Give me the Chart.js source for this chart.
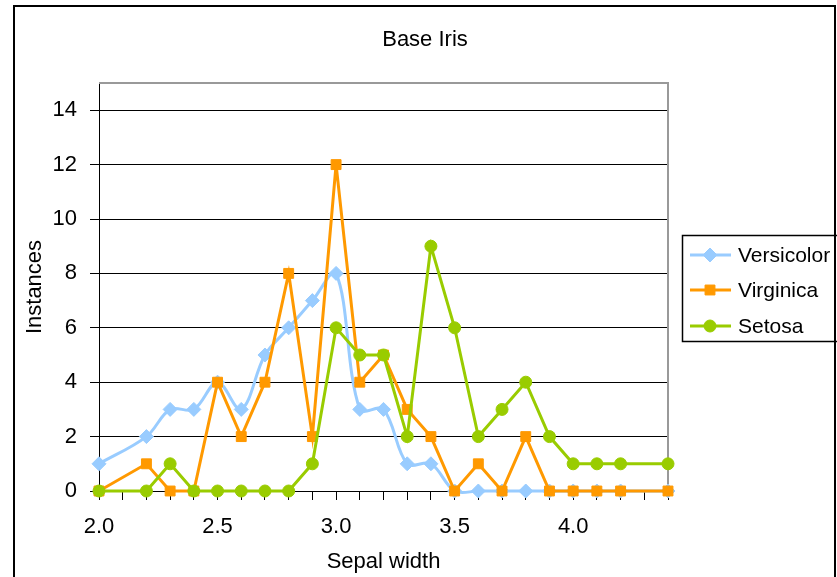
<!DOCTYPE html>
<html><head><meta charset="utf-8">
<script src="https://cdn.jsdelivr.net/npm/chart.js@4/dist/chart.umd.min.js"></script>
<style>html,body{margin:0;padding:0;background:#fff;}canvas{display:block;}</style>
</head><body>
<canvas id="c" width="837" height="577"></canvas>
<script>
const chartTitle = 'Base Iris';
const xTitle = 'Sepal width';
const yTitle = 'Instances';
const sepalWidth = [2.0,2.2,2.3,2.4,2.5,2.6,2.7,2.8,2.9,3.0,3.1,3.2,3.3,3.4,3.5,3.6,3.7,3.8,3.9,4.0,4.1,4.2,4.4];
const versicolor = [1,2,3,3,4,3,5,6,7,8,3,3,1,1,0,0,0,0,0,0,0,0,0];
const virginica  = [0,1,0,0,4,2,4,8,2,12,4,5,3,2,0,1,0,2,0,0,0,0,0];
const setosa     = [0,0,1,0,0,0,0,0,1,6,5,5,2,9,6,2,3,4,2,1,1,1,1];
const xTickLabels = ['2.0','2.5','3.0','3.5','4.0'];
const yTickLabels = ['0','2','4','6','8','10','12','14'];

const FONT = "'Liberation Sans', Arial, sans-serif";
const FS = 22;
const LEGEND_FS = 21;
Chart.defaults.font.family = FONT;
Chart.defaults.font.size = FS;
Chart.defaults.color = '#000';

const toPts = arr => sepalWidth.map((x, i) => ({x: x, y: arr[i]}));

const series = [
  {label: 'Versicolor', data: versicolor, color: '#99CCFF', style: 'rectRot', r: 7, tension: 0.35, order: 2},
  {label: 'Virginica', data: virginica, color: '#FF9900', style: 'rect', r: 7, tension: 0, order: 1},
  {label: 'Setosa', data: setosa, color: '#99CC00', style: 'circle', r: 6, tension: 0, order: 0}
];

const framePlugin = {
  id: 'frame',
  beforeDatasetsDraw(chart) {
    const {ctx, chartArea: a} = chart;
    ctx.save();
    ctx.strokeStyle = '#999';
    ctx.lineWidth = 2;
    ctx.beginPath();
    ctx.moveTo(a.left, a.top);
    ctx.lineTo(a.right, a.top);
    ctx.lineTo(a.right, a.bottom);
    ctx.stroke();
    ctx.restore();
  },
  afterDraw(chart) {
    const {ctx} = chart;
    ctx.save();
    ctx.fillStyle = '#000';
    ctx.font = FS + 'px ' + FONT;
    ctx.textAlign = 'center';
    ctx.textBaseline = 'middle';
    ctx.fillText(chartTitle, 425, 40);
    ctx.strokeStyle = '#000';
    ctx.lineWidth = 1.5;
    ctx.strokeRect(682.5, 235.5, 160, 106);
    ctx.textAlign = 'left';
    ctx.font = LEGEND_FS + 'px ' + FONT;
    const rows = [255, 290, 326];
    chart.data.datasets.forEach((ds, i) => {
      const y = rows[i];
      ctx.strokeStyle = ds.borderColor;
      ctx.lineWidth = 3;
      ctx.beginPath();
      ctx.moveTo(690, y);
      ctx.lineTo(731, y);
      ctx.stroke();
      ctx.fillStyle = ds.pointBackgroundColor;
      ctx.strokeStyle = ds.pointBorderColor;
      ctx.lineWidth = 1;
      Chart.helpers.drawPoint(ctx, {pointStyle: ds.pointStyle, radius: ds.pointRadius, borderWidth: 1, rotation: 0}, 710, y);
      ctx.fillStyle = '#000';
      ctx.fillText(ds.label, 738, y + 1);
    });
    ctx.strokeStyle = '#000';
    ctx.lineWidth = 2;
    ctx.strokeRect(14, 6, 821, 600);
    ctx.restore();
  }
};

new Chart(document.getElementById('c'), {
  type: 'line',
  data: {
    datasets: series.map(s => ({
      label: s.label,
      data: toPts(s.data),
      borderColor: s.color,
      backgroundColor: s.color,
      pointBackgroundColor: s.color,
      pointBorderColor: s.color,
      pointBorderWidth: 1,
      pointStyle: s.style,
      pointRadius: s.r,
      borderWidth: 3,
      tension: s.tension,
      capBezierPoints: false,
      order: s.order,
      clip: false,
      fill: false
    }))
  },
  options: {
    responsive: false,
    animation: false,
    events: [],
    layout: {padding: {left: 13, top: 83, right: 169, bottom: 0}},
    plugins: {legend: {display: false}, title: {display: false}, tooltip: {enabled: false}},
    scales: {
      x: {
        type: 'linear',
        bounds: 'data',
        min: 2.0, max: 4.4,
        afterFit(s) { s.height = 86; },
        border: {color: '#000', width: 1},
        grid: {drawOnChartArea: false, drawTicks: true, tickLength: 9, tickColor: '#000', lineWidth: 1},
        ticks: {
          stepSize: 0.1, autoSkip: false, maxRotation: 0, padding: 14, color: '#000',
          callback(v) { const t = Number(v).toFixed(1); return xTickLabels.includes(t) ? t : ''; }
        },
        title: {display: true, text: xTitle, color: '#000', font: {size: FS}, padding: {top: 0, bottom: 2}}
      },
      y: {
        type: 'linear',
        bounds: 'data',
        min: 0, max: 15,
        afterFit(s) { s.width = 86; },
        afterBuildTicks(s) { s.ticks = s.ticks.filter(t => yTickLabels.includes(String(t.value))); },
        border: {color: '#000', width: 1},
        grid: {color: '#000', lineWidth: 1, tickLength: 9, tickColor: '#000'},
        ticks: {
          stepSize: 2, includeBounds: false, padding: 13, color: '#000',
          callback(v) { const t = String(v); return yTickLabels.includes(t) ? t : ''; }
        },
        title: {display: true, text: yTitle, color: '#000', font: {size: FS}, padding: {top: 9, bottom: 0}}
      }
    }
  },
  plugins: [framePlugin]
});
</script>
</body></html>
